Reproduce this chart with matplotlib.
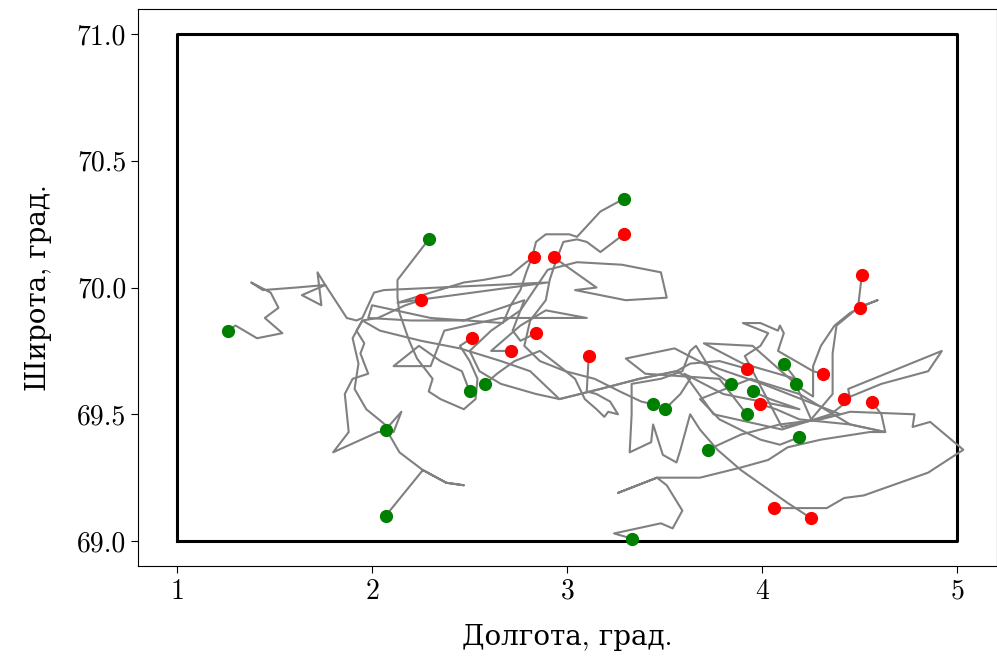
import matplotlib
matplotlib.use("Agg")
from matplotlib import pyplot as plt

plt.rcParams['font.family'] = ['cmr10', 'DejaVu Serif']
plt.rcParams['axes.formatter.use_mathtext'] = True
plt.rcParams['mathtext.fontset'] = 'cm'

# study area box
box_lon = [1.0, 5.0]
box_lat = [69.0, 71.0]

# drifter tracks (lon, lat)
tr01_lon = [1.26, 1.30, 1.41, 1.54, 1.45, 1.52, 1.48, 1.38, 1.44, 1.61, 1.76, 1.72, 1.74,
            1.64, 1.76, 1.87, 1.92, 1.95, 2.01, 2.06, 2.90, 2.13, 2.47, 2.57, 2.71, 2.79, 2.83]
tr01_lat = [69.83, 69.85, 69.80, 69.82, 69.88, 69.92, 69.98, 70.02, 69.99, 70.00, 70.01, 70.06, 69.93,
            69.97, 70.01, 69.88, 69.87, 69.88, 69.98, 69.99, 70.02, 69.94, 70.02, 70.03, 70.05, 70.10, 70.12]

tr02_lon = [2.29, 2.13, 2.13, 2.14, 2.19, 2.23, 2.31, 2.29, 2.35, 2.47, 2.53, 2.54, 2.50, 2.45, 2.51]
tr02_lat = [70.19, 70.03, 69.96, 69.90, 69.79, 69.72, 69.64, 69.59, 69.56, 69.52, 69.56, 69.64, 69.71, 69.77, 69.80]

tr03_lon = [2.07, 2.26, 2.38, 2.47, 2.38, 2.26, 2.14, 2.08, 2.03, 1.80, 1.88, 1.86, 1.90, 1.98,
            1.94, 1.96, 1.92, 1.95, 2.03, 2.17, 2.25]
tr03_lat = [69.10, 69.28, 69.23, 69.22, 69.23, 69.28, 69.35, 69.43, 69.43, 69.35, 69.43, 69.58, 69.64, 69.66,
            69.74, 69.78, 69.83, 69.87, 69.88, 69.93, 69.95]

tr04_lon = [2.07, 2.15, 2.11, 2.05, 1.97, 1.91, 1.93, 1.90, 1.95, 2.04, 2.25, 2.45, 2.66, 2.81,
            2.96, 3.17, 3.37, 3.56, 3.63, 3.78, 3.92]
tr04_lat = [69.44, 69.51, 69.43, 69.47, 69.52, 69.60, 69.70, 69.80, 69.87, 69.83, 69.79, 69.76, 69.71, 69.67,
            69.56, 69.60, 69.64, 69.67, 69.70, 69.71, 69.68]

tr05_lon = [3.29, 3.17, 3.05, 3.01, 2.89, 2.84, 2.82, 2.79, 2.76, 2.71, 2.67, 2.30, 2.00, 1.98,
            2.20, 2.47, 2.78, 2.72, 2.76, 2.84]
tr05_lat = [70.35, 70.30, 70.20, 70.21, 70.21, 70.18, 70.12, 70.06, 69.99, 69.93, 69.86, 69.88, 69.93, 69.88,
            69.87, 69.87, 69.95, 69.83, 69.79, 69.82]

tr06_lon = [3.44, 3.38, 3.27, 3.14, 2.99, 2.86, 2.78, 2.81, 2.89, 2.91, 2.94, 2.98, 3.05, 3.10, 3.17, 3.29]
tr06_lat = [69.54, 69.55, 69.59, 69.64, 69.67, 69.71, 69.77, 69.87, 69.95, 70.03, 70.10, 70.18, 70.19, 70.18, 70.14, 70.21]

tr07_lon = [3.50, 3.58, 3.63, 3.56, 3.37, 3.17, 2.96, 2.84, 2.66, 2.55, 2.50, 2.61, 2.76, 2.90,
            3.05, 3.28, 3.48, 3.51, 3.30, 3.04, 3.15, 2.93]
tr07_lat = [69.52, 69.58, 69.64, 69.67, 69.64, 69.60, 69.56, 69.58, 69.62, 69.67, 69.75, 69.83, 69.91, 70.07,
            70.10, 70.09, 70.06, 69.96, 69.95, 69.99, 70.00, 70.12]

tr08_lon = [2.50, 2.46, 2.35, 2.24, 2.11, 2.30, 2.37, 2.66, 3.10, 2.89, 2.76, 2.61, 2.71]
tr08_lat = [69.59, 69.67, 69.71, 69.77, 69.69, 69.69, 69.83, 69.88, 69.88, 69.91, 69.85, 69.75, 69.75]

tr09_lon = [2.58, 2.64, 2.73, 2.86, 2.96, 3.04, 3.09, 3.15, 3.19, 3.21, 3.26, 3.22, 3.15, 3.10, 3.11]
tr09_lat = [69.62, 69.66, 69.71, 69.75, 69.69, 69.64, 69.56, 69.52, 69.49, 69.51, 69.50, 69.55, 69.58, 69.59, 69.73]

tr10_lon = [3.33, 3.24, 3.48, 3.54, 3.59, 3.51, 3.46, 3.26, 3.46, 3.68, 3.89, 4.03, 4.13, 4.30,
            4.55, 4.63, 4.45, 4.19, 4.07, 3.99]
tr10_lat = [69.01, 69.03, 69.07, 69.05, 69.12, 69.22, 69.25, 69.19, 69.25, 69.25, 69.29, 69.32, 69.37, 69.40,
            69.43, 69.43, 69.46, 69.48, 69.52, 69.54]

tr11_lon = [3.72, 3.89, 4.09, 4.30, 4.45, 4.78, 4.77, 4.86, 5.03, 4.85, 4.52, 4.42, 4.33, 4.06]
tr11_lat = [69.36, 69.42, 69.46, 69.48, 69.51, 69.50, 69.45, 69.47, 69.36, 69.27, 69.18, 69.17, 69.13, 69.13]

tr12_lon = [3.84, 3.74, 3.66, 3.63, 3.59, 3.48, 3.33, 3.33, 3.32, 3.43, 3.44, 3.49, 3.56, 3.58,
            3.63, 3.68, 3.77, 3.89, 4.13, 4.25]
tr12_lat = [69.62, 69.67, 69.77, 69.75, 69.67, 69.64, 69.62, 69.50, 69.35, 69.39, 69.46, 69.34, 69.31, 69.36,
            69.50, 69.44, 69.36, 69.28, 69.15, 69.09]

tr13_lon = [3.92, 3.86, 3.78, 3.40, 3.30, 3.55, 3.70, 4.00, 4.40, 4.10, 3.91, 3.99, 4.03, 3.90,
            3.99, 4.08, 4.09, 4.11, 4.08, 4.17, 4.26, 4.31]
tr13_lat = [69.50, 69.56, 69.64, 69.66, 69.72, 69.76, 69.70, 69.62, 69.50, 69.45, 69.73, 69.77, 69.82, 69.86,
            69.86, 69.83, 69.85, 69.82, 69.75, 69.71, 69.67, 69.66]

tr14_lon = [3.95, 4.04, 4.19, 3.80, 3.60, 3.75, 4.10, 4.35, 4.45, 4.44, 4.92, 4.85, 4.61, 4.42]
tr14_lat = [69.59, 69.56, 69.52, 69.58, 69.66, 69.50, 69.44, 69.50, 69.56, 69.60, 69.75, 69.67, 69.62, 69.56]

tr15_lon = [4.11, 4.17, 3.90, 3.70, 3.95, 4.20, 4.26, 4.26, 4.30, 4.37, 4.45, 4.50]
tr15_lat = [69.70, 69.64, 69.70, 69.78, 69.77, 69.60, 69.57, 69.69, 69.77, 69.85, 69.90, 69.92]

tr16_lon = [4.17, 4.25, 4.36, 4.36, 4.38, 4.49, 4.59, 4.49, 4.51]
tr16_lat = [69.62, 69.48, 69.58, 69.74, 69.85, 69.92, 69.95, 69.92, 70.05]

tr17_lon = [4.19, 4.09, 3.99, 3.78, 3.68, 3.94, 4.19, 4.45, 4.63, 4.61, 4.56]
tr17_lat = [69.41, 69.38, 69.40, 69.48, 69.56, 69.64, 69.58, 69.46, 69.43, 69.50, 69.55]

# start (green) and end (red) positions
start_lon = [1.26, 2.29, 2.07, 2.07, 2.50, 2.58, 3.29, 3.33, 3.44, 3.50, 3.72, 3.84, 3.92, 3.95, 4.11, 4.17, 4.19]
start_lat = [69.83, 70.19, 69.44, 69.10, 69.59, 69.62, 70.35, 69.01, 69.54, 69.52, 69.36, 69.62, 69.50, 69.59, 69.70, 69.62, 69.41]
end_lon = [2.25, 2.51, 2.71, 2.83, 2.84, 2.93, 3.11, 3.29, 3.92, 3.99, 4.06, 4.25, 4.31, 4.42, 4.50, 4.51, 4.56]
end_lat = [69.95, 69.80, 69.75, 70.12, 69.82, 70.12, 69.73, 70.21, 69.68, 69.54, 69.13, 69.09, 69.66, 69.56, 69.92, 70.05, 69.55]

tracks = [(tr01_lon, tr01_lat), (tr02_lon, tr02_lat), (tr03_lon, tr03_lat), (tr04_lon, tr04_lat),
          (tr05_lon, tr05_lat), (tr06_lon, tr06_lat), (tr07_lon, tr07_lat), (tr08_lon, tr08_lat),
          (tr09_lon, tr09_lat), (tr10_lon, tr10_lat), (tr11_lon, tr11_lat), (tr12_lon, tr12_lat),
          (tr13_lon, tr13_lat), (tr14_lon, tr14_lat), (tr15_lon, tr15_lat), (tr16_lon, tr16_lat),
          (tr17_lon, tr17_lat)]


def main():
    fig = plt.figure(figsize=(9.97, 6.62), dpi=100)
    ax = fig.add_axes([0.1384, 0.1444, 0.8611, 0.8425])

    x0, x1 = box_lon
    y0, y1 = box_lat
    ax.plot([x0, x1, x1, x0, x0], [y0, y0, y1, y1, y0], color='black', lw=2.2)

    for lon, lat in tracks:
        ax.plot(lon, lat, color='gray', lw=1.5)

    ax.plot(start_lon, start_lat, 'o', color='green', ms=8.5, ls='none')
    ax.plot(end_lon, end_lat, 'o', color='red', ms=8.5, ls='none')

    ax.set_xlim(0.8, 5.2)
    ax.set_ylim(68.9, 71.1)
    ax.set_xticks([1, 2, 3, 4, 5])
    ax.set_yticks([69.0, 69.5, 70.0, 70.5, 71.0])
    ax.set_yticklabels(['69.0', '69.5', '70.0', '70.5', '71.0'])
    ax.tick_params(labelsize=20, length=5)
    ax.set_xlabel('Долгота, град.', fontsize=20, labelpad=14)
    ax.set_ylabel('Широта, град.', fontsize=20, labelpad=18)

    fig.savefig('out.png', dpi=100)


if __name__ == '__main__':
    main()
